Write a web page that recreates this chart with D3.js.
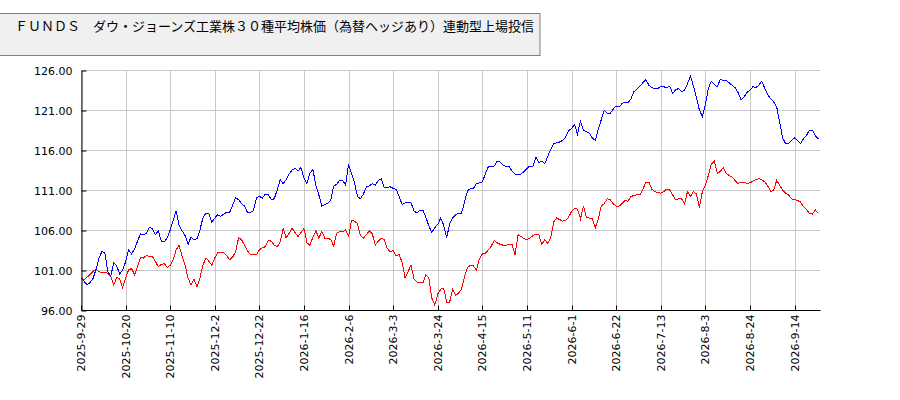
<!DOCTYPE html>
<html>
<head>
<meta charset="utf-8">
<script src="https://cdn.jsdelivr.net/npm/d3@7"></script>
<style>
  body { margin: 0; background: #fff; }
  svg { display: block; }
</style>
</head>
<body>
<div id="container"></div>
<script>
const title = 'ＦＵＮＤＳ　ダウ・ジョーンズ工業株３０種平均株価（為替ヘッジあり）連動型上場投信';

// x tick labels and the trading-day index they sit on
const tickLabels = ['2025-9-29', '2025-10-20', '2025-11-10', '2025-12-2', '2025-12-22', '2026-1-16', '2026-2-6',
  '2026-3-3', '2026-3-24', '2026-4-15', '2026-5-11', '2026-6-1', '2026-6-22', '2026-7-13', '2026-8-3', '2026-8-24', '2026-9-14'];
const tickIndex = [0, 15, 30, 45, 60, 75, 90, 105, 120, 135, 150, 165, 180, 195, 210, 225, 240];

const yTicks = [96, 101, 106, 111, 116, 121, 126];

// blue series (one value per trading day)
const blueSeries = [
  100.0, 99.6, 99.2, 99.4, 99.9, 101.0, 102.4, 103.3, 103.2, 100.8,
  100.2, 101.9, 101.5, 100.5, 101.0, 102.0, 103.5, 103.0, 103.6, 104.6,
  105.5, 105.4, 105.6, 106.3, 106.2, 105.4, 105.9, 104.6, 104.5, 105.0,
  106.0, 107.2, 108.4, 106.6, 105.9, 105.3, 104.2, 105.1, 104.8, 104.9,
  106.0, 107.5, 108.1, 108.1, 107.0, 107.5, 107.9, 107.7, 108.0, 108.2,
  108.2, 109.1, 110.0, 109.8, 109.3, 109.0, 108.2, 108.2, 108.4, 110.0,
  110.2, 110.0, 110.5, 110.4, 109.8, 109.9, 111.0, 112.3, 111.8, 112.3,
  113.0, 113.5, 113.7, 113.4, 113.8, 112.5, 111.8, 113.1, 113.6, 111.5,
  110.4, 109.0, 109.2, 109.3, 109.7, 111.5, 111.7, 112.2, 112.2, 111.6,
  114.2, 113.1, 111.9, 110.2, 109.9, 110.5, 111.4, 111.5, 111.8, 111.6,
  112.2, 112.4, 111.3, 111.3, 111.4, 111.2, 111.1, 110.2, 109.2, 109.4,
  109.4, 109.4, 108.4, 108.1, 108.5, 108.5, 107.6, 106.5, 105.7, 106.3,
  106.7, 107.5, 106.6, 105.0, 106.8, 107.5, 107.9, 108.1, 108.1, 109.5,
  110.9, 111.2, 111.2, 111.8, 111.9, 112.0, 113.0, 113.9, 113.9, 114.0,
  114.6, 114.5, 114.1, 113.9, 113.9, 113.4, 113.0, 113.0, 113.0, 113.3,
  113.7, 114.0, 114.0, 115.1, 114.4, 114.6, 114.3, 115.2, 116.1, 116.8,
  116.9, 117.0, 117.2, 117.6, 118.4, 118.7, 119.2, 118.0, 119.6, 118.5,
  118.3, 118.1, 117.5, 117.2, 118.6, 119.8, 121.0, 120.6, 120.6, 121.1,
  121.5, 121.4, 121.8, 122.0, 121.9, 122.4, 123.3, 123.6, 124.0, 124.4,
  124.8, 124.1, 123.8, 123.7, 123.7, 123.9, 123.9, 123.8, 124.0, 123.1,
  123.5, 123.7, 123.3, 123.5, 124.3, 125.2, 124.0, 122.5, 121.0, 120.2,
  121.6, 123.7, 124.6, 124.2, 123.9, 124.8, 124.7, 124.7, 124.4, 124.1,
  123.8, 123.2, 122.3, 122.6, 123.2, 123.5, 123.9, 123.8, 124.1, 124.6,
  123.7, 122.9, 122.4, 122.0, 121.4, 119.5, 117.5, 116.8, 116.8, 117.2,
  117.5, 117.2, 116.8, 117.4, 117.8, 118.5, 118.5, 117.8, 117.4
];

// red series
const redSeries = [
  100.0, 99.8, 100.1, 100.4, 100.8, 101.1, 100.8, 100.7, 100.7, 100.6,
  100.2, 99.1, 100.1, 99.9, 98.8, 100.0, 101.0, 101.2, 100.4, 101.4,
  102.6, 102.5, 102.8, 102.7, 102.7, 102.1, 101.4, 101.7, 101.8, 101.3,
  101.6, 102.3, 103.5, 104.1, 102.7, 101.6, 100.0, 99.1, 99.9, 98.9,
  100.0, 101.6, 102.5, 102.1, 101.6, 102.5, 103.2, 103.2, 103.2, 102.8,
  102.3, 102.6, 103.3, 105.0, 104.8, 104.1, 103.4, 102.9, 102.9, 102.9,
  103.5, 103.8, 103.9, 104.7, 104.6, 104.1, 103.9, 104.5, 106.2, 105.0,
  105.6, 106.2, 105.7, 105.2, 105.7, 106.2, 104.4, 104.1, 105.1, 105.9,
  105.0, 105.8, 105.0, 105.0, 104.8, 104.0, 105.6, 105.8, 105.8, 106.0,
  105.2, 107.2, 107.1, 106.8, 105.3, 105.0, 105.4, 105.9, 105.5, 104.1,
  104.6, 105.0, 104.8, 103.7, 103.3, 103.4, 102.8, 102.9, 102.0, 100.0,
  100.8, 101.6, 99.9, 99.5, 99.5, 99.4, 100.4, 100.0, 97.5, 96.6,
  98.0, 98.6, 98.7, 97.0, 97.0, 98.6, 97.8, 98.1, 98.6, 100.2,
  101.3, 101.6, 101.5, 101.0, 102.4, 103.0, 103.1, 103.5, 104.0, 104.7,
  104.4, 104.2, 104.1, 104.1, 104.2, 104.2, 102.9, 105.4, 105.2, 104.9,
  104.8, 105.0, 105.3, 105.5, 105.4, 104.2, 104.8, 104.3, 105.0, 107.0,
  107.5, 107.3, 107.1, 107.2, 107.6, 108.3, 108.7, 108.6, 107.4, 109.0,
  107.6, 107.5, 107.4, 106.3, 107.4, 109.0, 109.3, 109.9, 109.8, 109.3,
  109.0, 109.0, 109.3, 109.7, 109.6, 110.2, 110.3, 110.4, 110.4, 111.1,
  112.0, 112.0, 111.1, 110.8, 110.7, 110.6, 110.8, 111.1, 111.0, 110.4,
  109.8, 109.9, 109.9, 109.3, 110.8, 110.2, 110.8, 110.5, 108.8, 110.8,
  111.6, 112.8, 114.2, 114.6, 113.1, 113.3, 113.8, 113.1, 112.8, 112.6,
  112.2, 111.8, 112.0, 112.0, 111.8, 111.9, 112.1, 112.3, 112.4, 112.3,
  112.0, 111.5, 110.8, 111.0, 112.2, 111.6, 111.0, 110.6, 110.4, 109.9,
  109.8, 109.7, 109.5, 108.9, 108.6, 108.1, 108.0, 108.5, 108.1
];

const width = 900, height = 400;
const margin = {top: 70, left: 81, bottom: 90};
const step = 2.973;   // px per trading day

const svg = d3.select('#container')
  .append('svg')
  .attr('width', width)
  .attr('height', height);

//title box
svg.append('rect')
  .attr('x', -1)
  .attr('y', 13.5)
  .attr('width', 541)
  .attr('height', 42)
  .style('fill', '#f0f0f0')
  .style('stroke', '#808080')
  .style('stroke-width', 1);

svg.append('text')
  .attr('x', 15)
  .attr('y', 31)
  .style('font-family', '"Noto Sans CJK JP", sans-serif')
  .style('font-size', '13px')
  .style('fill', '#000')
  .text(title);

const n = blueSeries.length;
const xScale = d3.scaleLinear()
  .domain([0, n - 1])
  .range([margin.left, margin.left + (n - 1) * step]);

const yScale = d3.scaleLinear()
  .domain([96, 126])
  .range([height - margin.bottom, margin.top]);

const plotRight = 820;

//grid
const grid = svg.append('g').attr('class', 'grid');
grid.selectAll('.hgrid')
  .data(yTicks)
  .enter()
  .append('line')
  .attr('x1', margin.left)
  .attr('x2', plotRight)
  .attr('y1', d => yScale(d) + 0.5)
  .attr('y2', d => yScale(d) + 0.5)
  .style('stroke', '#c8c8c8')
  .style('stroke-width', 1);

grid.selectAll('.vgrid')
  .data(tickIndex)
  .enter()
  .append('line')
  .attr('x1', d => Math.round(xScale(d)) + 0.5)
  .attr('x2', d => Math.round(xScale(d)) + 0.5)
  .attr('y1', margin.top)
  .attr('y2', height - margin.bottom)
  .style('stroke', '#c8c8c8')
  .style('stroke-width', 1);

//lines
const line = d3.line()
  .x((d, i) => xScale(i))
  .y(d => yScale(d));

svg.append('path')
  .datum(redSeries)
  .attr('d', line)
  .style('fill', 'none')
  .style('stroke', '#ff0000')
  .style('stroke-width', 1)
  .style('shape-rendering', 'crispEdges');

svg.append('path')
  .datum(blueSeries)
  .attr('d', line)
  .style('fill', 'none')
  .style('stroke', '#0000ff')
  .style('stroke-width', 1)
  .style('shape-rendering', 'crispEdges');

//y axis
const yAxis = svg.append('g')
  .attr('transform', `translate(${margin.left + 0.5}, 0.5)`)
  .call(d3.axisLeft(yScale)
    .tickValues(yTicks)
    .tickFormat(d3.format('.2f'))
    .tickSizeInner(-5)
    .tickSizeOuter(0)
    .tickPadding(9));

//x axis
const xAxis = svg.append('g')
  .attr('transform', `translate(0.5, ${height - margin.bottom + 0.5})`)
  .call(d3.axisBottom(xScale)
    .tickValues(tickIndex)
    .tickFormat((d, i) => tickLabels[i])
    .tickSizeInner(-5)
    .tickSizeOuter(0));

xAxis.select('.domain')
  .attr('d', `M${margin.left},0H${plotRight}`);

xAxis.selectAll('.tick')
  .attr('transform', d => `translate(${Math.round(xScale(d))},0)`);

xAxis.selectAll('text')
  .attr('y', 0)
  .attr('x', -4)
  .attr('dy', '0.35em')
  .attr('transform', 'rotate(-90)')
  .style('text-anchor', 'end');

svg.selectAll('.tick text')
  .style('font-family', '"DejaVu Sans", sans-serif')
  .style('font-size', '11px')
  .style('fill', '#000');

svg.selectAll('.domain, .tick line')
  .style('stroke', '#000');
</script>
</body>
</html>
